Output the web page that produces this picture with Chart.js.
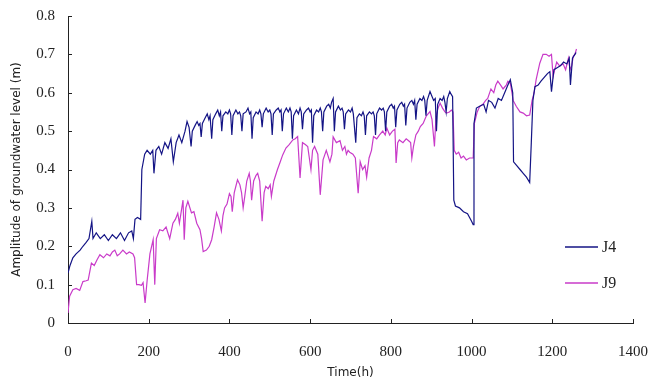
<!DOCTYPE html>
<html>
<head>
<meta charset="utf-8">
<script src="https://cdn.jsdelivr.net/npm/chart.js@4"></script>
<style>
  html, body { margin: 0; padding: 0; background: #fff; }
</style>
</head>
<body>
<canvas id="levelChart" width="650" height="380"></canvas>
<script>
// J4 observation well: time (h) and amplitude (m)
const j4Time = [0, 5, 12, 20, 30, 37, 45, 52, 59, 62, 70, 80, 90, 100, 110, 120, 130, 140, 150, 158, 162, 166, 172, 180,
  183, 190, 196, 204, 210, 213, 218, 225, 232, 240, 248, 255, 261, 268, 275, 282, 290, 295, 300, 305,
  308, 315, 320, 324, 327, 330,
  333, 340, 345, 349, 352, 356,
  359, 366, 371, 375, 378, 381,
  384, 391, 396, 400, 403, 406,
  409, 416, 421, 425, 428, 431,
  434, 441, 446, 450, 453, 456,
  459, 466, 471, 475, 478, 481,
  484, 491, 496, 500, 503, 506,
  509, 516, 521, 525, 528, 531,
  534, 541, 546, 550, 553, 556,
  559, 566, 571, 575, 578, 581,
  584, 591, 596, 600, 603, 606,
  609, 616, 621, 625, 628, 631,
  634, 641, 646, 650, 653, 657, 660,
  663, 670, 675, 679, 682, 685,
  688, 695, 700, 704, 707, 713,
  716, 722, 727, 731, 734, 737,
  740, 747, 752, 756, 759, 762,
  765, 772, 777, 781, 784, 787,
  790, 797, 802, 806, 809, 812,
  815, 822, 827, 831, 834, 837,
  840, 847, 852, 856, 859, 862,
  865, 872, 877, 881, 884, 887,
  890, 897, 902, 906, 910, 913,
  916, 922, 927, 931, 934, 937,
  940, 946, 950, 953,
  956, 960, 970, 980, 990, 1000, 1004,
  1006, 1012, 1020, 1030, 1036, 1042, 1050, 1058, 1066, 1074, 1082, 1090, 1096, 1102, 1104, 1112, 1120, 1128, 1136, 1144,
  1148, 1152, 1157, 1165, 1172, 1180, 1188, 1194, 1198, 1204, 1212, 1220, 1228, 1236, 1242, 1245, 1250, 1256, 1259];
const j4Level = [0.13, 0.15, 0.17, 0.18, 0.19, 0.20, 0.21, 0.22, 0.265, 0.22, 0.235, 0.22, 0.23, 0.215, 0.23, 0.22, 0.235, 0.215, 0.235, 0.24, 0.22, 0.27, 0.275, 0.27,
  0.40, 0.44, 0.45, 0.44, 0.45, 0.39, 0.45, 0.46, 0.44, 0.47, 0.455, 0.48, 0.42, 0.47, 0.49, 0.47, 0.50, 0.525, 0.51, 0.46,
  0.50, 0.515, 0.525, 0.515, 0.52, 0.485,
  0.52, 0.535, 0.545, 0.53, 0.54, 0.48,
  0.53, 0.545, 0.555, 0.54, 0.55, 0.50,
  0.54, 0.55, 0.545, 0.555, 0.545, 0.49,
  0.54, 0.555, 0.545, 0.55, 0.54, 0.50,
  0.545, 0.55, 0.56, 0.545, 0.55, 0.48,
  0.535, 0.55, 0.545, 0.555, 0.545, 0.51,
  0.545, 0.56, 0.55, 0.555, 0.545, 0.49,
  0.545, 0.555, 0.56, 0.55, 0.555, 0.50,
  0.545, 0.56, 0.55, 0.56, 0.55, 0.48,
  0.54, 0.555, 0.545, 0.56, 0.55, 0.505,
  0.545, 0.555, 0.56, 0.55, 0.555, 0.47,
  0.54, 0.555, 0.55, 0.56, 0.55, 0.50,
  0.55, 0.565, 0.57, 0.56, 0.575, 0.585, 0.50,
  0.55, 0.565, 0.555, 0.56, 0.55, 0.505,
  0.545, 0.555, 0.55, 0.56, 0.545, 0.47,
  0.535, 0.545, 0.54, 0.55, 0.54, 0.49,
  0.54, 0.55, 0.545, 0.55, 0.54, 0.49,
  0.545, 0.56, 0.555, 0.56, 0.55, 0.50,
  0.55, 0.565, 0.57, 0.56, 0.565, 0.51,
  0.555, 0.57, 0.575, 0.565, 0.57, 0.515,
  0.56, 0.575, 0.58, 0.57, 0.58, 0.53,
  0.57, 0.585, 0.58, 0.59, 0.58, 0.54,
  0.58, 0.603, 0.59, 0.58, 0.585, 0.50,
  0.57, 0.585, 0.58, 0.59, 0.575, 0.55,
  0.585, 0.603, 0.595, 0.59,
  0.32, 0.305, 0.30, 0.29, 0.285, 0.265, 0.256,
  0.52, 0.56, 0.565, 0.57, 0.55, 0.58, 0.575, 0.56, 0.585, 0.58, 0.60, 0.62, 0.634, 0.60, 0.42, 0.41, 0.40, 0.39, 0.38, 0.366,
  0.47, 0.58, 0.616, 0.62, 0.63, 0.64, 0.65, 0.655, 0.603, 0.66, 0.665, 0.67, 0.68, 0.675, 0.69, 0.62, 0.69, 0.70, 0.705];

// J9 observation well: time (h) and amplitude (m)
const j9Time = [0, 4, 12, 20, 29, 37, 45, 50, 58, 65, 72, 79, 88, 96, 104, 110, 116, 122, 128, 136, 145, 152, 161, 165,
  170, 176, 182, 186, 191, 196, 203, 211, 215, 219, 227, 235, 243, 252, 260, 266, 272, 276, 282, 285, 288, 292, 297,
  306, 312, 319, 327, 331, 335, 343, 350, 356, 362, 368, 374, 380, 384, 388, 394, 400, 404, 407, 412, 420, 426, 430,
  434, 438, 443, 449, 452, 455, 460, 466, 470, 475, 481, 486, 490, 496, 501, 504, 510, 519, 526, 532, 540, 548, 557,
  563, 569, 575, 581, 588, 594, 602, 606, 611, 619, 625, 632, 640, 649, 654, 657, 665, 674, 680, 686, 690, 694, 698,
  706, 712, 719, 724, 730, 736, 740, 746, 752, 757, 765, 772, 780, 786, 790, 797, 804, 810, 813, 817, 821, 830, 838,
  844, 849, 852, 856, 862, 868, 873, 880, 888, 897, 902, 908, 912, 917, 922, 928, 934, 938, 945, 950, 954, 957, 962,
  968, 974, 980, 987, 995, 1004,
  1007, 1014, 1020, 1028, 1035, 1040, 1048, 1055, 1060, 1065, 1072, 1078, 1082, 1086, 1090, 1096, 1100, 1103, 1111, 1120,
  1128, 1136, 1144, 1150, 1155, 1160, 1169, 1177, 1185, 1192, 1198, 1202, 1206, 1211, 1218, 1227, 1233, 1240, 1244, 1248,
  1252, 1256, 1260];
const j9Level = [0.026, 0.07, 0.087, 0.09, 0.085, 0.108, 0.11, 0.112, 0.156, 0.15, 0.165, 0.178, 0.17, 0.18, 0.175, 0.185, 0.19, 0.175, 0.18, 0.19, 0.18, 0.185, 0.18, 0.17,
  0.10, 0.10, 0.098, 0.105, 0.052, 0.11, 0.18, 0.217, 0.10, 0.22, 0.243, 0.24, 0.25, 0.22, 0.26, 0.27, 0.286, 0.26, 0.30, 0.32, 0.217, 0.30, 0.317,
  0.287, 0.29, 0.26, 0.243, 0.22, 0.186, 0.19, 0.20, 0.217, 0.25, 0.287, 0.27, 0.24, 0.28, 0.30, 0.31, 0.337, 0.33, 0.29, 0.34, 0.373, 0.36, 0.34,
  0.30, 0.33, 0.37, 0.39, 0.37, 0.32, 0.37, 0.385, 0.39, 0.37, 0.265, 0.34, 0.356, 0.35, 0.36, 0.33, 0.37, 0.40, 0.42, 0.438, 0.456, 0.465, 0.477,
  0.48, 0.486, 0.378, 0.47, 0.465, 0.46, 0.40, 0.45, 0.46, 0.44, 0.334, 0.425, 0.45, 0.42, 0.44, 0.485, 0.47, 0.475, 0.45, 0.46, 0.44, 0.45, 0.445,
  0.44, 0.43, 0.338, 0.42, 0.40, 0.41, 0.38, 0.43, 0.45, 0.486, 0.48, 0.49, 0.50, 0.49, 0.508, 0.49, 0.50, 0.505, 0.417, 0.47, 0.477, 0.47, 0.48,
  0.475, 0.47, 0.43, 0.46, 0.49, 0.50, 0.512, 0.52, 0.54, 0.551, 0.53, 0.46, 0.54, 0.56, 0.573, 0.56, 0.55, 0.547, 0.55, 0.555, 0.55, 0.45, 0.44,
  0.445, 0.43, 0.435, 0.425, 0.43, 0.43,
  0.52, 0.55, 0.564, 0.57, 0.58, 0.585, 0.61, 0.60, 0.62, 0.63, 0.62, 0.61, 0.615, 0.62, 0.63, 0.625, 0.60, 0.58, 0.564, 0.55,
  0.547, 0.54, 0.542, 0.58, 0.60, 0.634, 0.677, 0.70, 0.70, 0.695, 0.70, 0.642, 0.66, 0.68, 0.67, 0.675, 0.66, 0.69, 0.66, 0.67,
  0.695, 0.70, 0.714];

const xTicks = [0, 200, 400, 600, 800, 1000, 1200, 1400];
const yTicks = [0, 0.1, 0.2, 0.3, 0.4, 0.5, 0.6, 0.7, 0.8];

const tickFont = { family: "'Liberation Serif', 'DejaVu Serif', serif", size: 15 };
const titleFont = { family: "'DejaVu Sans', sans-serif", size: 12 };

// small tick marks pointing into the plot, like the original figure
const innerTicks = {
    id: 'innerTicks',
    afterDraw(chart) {
        const ctx = chart.ctx;
        const xs = chart.scales.x;
        const ys = chart.scales.y;
        ctx.save();
        ctx.strokeStyle = '#222';
        ctx.lineWidth = 1;
        ctx.beginPath();
        yTicks.forEach(v => {
            const py = Math.round(ys.getPixelForValue(v)) + 0.5;
            ctx.moveTo(xs.left, py);
            ctx.lineTo(xs.left + 4, py);
        });
        xTicks.forEach(v => {
            const px = Math.round(xs.getPixelForValue(v)) + 0.5;
            ctx.moveTo(px, ys.bottom);
            ctx.lineTo(px, ys.bottom - 4);
        });
        ctx.stroke();
        ctx.restore();
    }
};

// legend sitting inside the plot at the lower right
const innerLegend = {
    id: 'innerLegend',
    afterDraw(chart) {
        const ctx = chart.ctx;
        ctx.save();
        chart.data.datasets.forEach((ds, i) => {
            const y = 247 + i * 36;
            ctx.strokeStyle = ds.borderColor;
            ctx.lineWidth = 1.5;
            ctx.beginPath();
            ctx.moveTo(565, y);
            ctx.lineTo(598, y);
            ctx.stroke();
            ctx.fillStyle = '#222';
            ctx.font = "16px 'Liberation Serif', serif";
            ctx.textBaseline = 'middle';
            ctx.fillText(ds.label, 602, y + 1);
        });
        ctx.restore();
    }
};

const ctx = document.getElementById('levelChart').getContext('2d');
const chart = new Chart(ctx, {
    type: 'line',
    data: {
        datasets: [{
            label: 'J4',
            data: j4Time.map((t, i) => ({ x: t, y: j4Level[i] })),
            borderColor: '#141485',
            borderWidth: 1.2,
            pointRadius: 0,
            tension: 0
        }, {
            label: 'J9',
            data: j9Time.map((t, i) => ({ x: t, y: j9Level[i] })),
            borderColor: '#c93bc9',
            borderWidth: 1.2,
            pointRadius: 0,
            tension: 0
        }]
    },
    options: {
        responsive: false,
        animation: false,
        layout: { autoPadding: false, padding: { left: 10, right: 17, top: 16, bottom: 0 } },
        plugins: {
            legend: { display: false },
            tooltip: { enabled: false }
        },
        scales: {
            x: {
                type: 'linear',
                min: 0,
                max: 1400,
                afterBuildTicks: s => { s.ticks = xTicks.map(v => ({ value: v })); },
                afterFit: s => { s.height = 57; s.paddingLeft = 0; s.paddingRight = 0; },
                grid: { display: false, drawTicks: false },
                border: { display: true, color: '#222', width: 1 },
                ticks: { font: tickFont, color: '#222', padding: 20, maxRotation: 0, callback: v => String(v) },
                title: { display: true, text: 'Time(h)', font: titleFont, color: '#222', padding: { top: 0, bottom: 0 } }
            },
            y: {
                min: 0,
                max: 0.8,
                afterBuildTicks: s => { s.ticks = yTicks.map(v => ({ value: v })); },
                afterFit: s => { s.width = 58; s.paddingTop = 0; s.paddingBottom = 0; },
                grid: { display: false, drawTicks: false },
                border: { display: true, color: '#222', width: 1 },
                ticks: {
                    font: tickFont,
                    color: '#222',
                    padding: 13,
                    callback: v => v === 0 ? '0' : v.toFixed(1)
                },
                title: { display: true, text: 'Amplitude of groundwater level (m)', font: titleFont, color: '#222', padding: 0 }
            }
        }
    },
    plugins: [innerTicks, innerLegend]
});
</script>
</body>
</html>
